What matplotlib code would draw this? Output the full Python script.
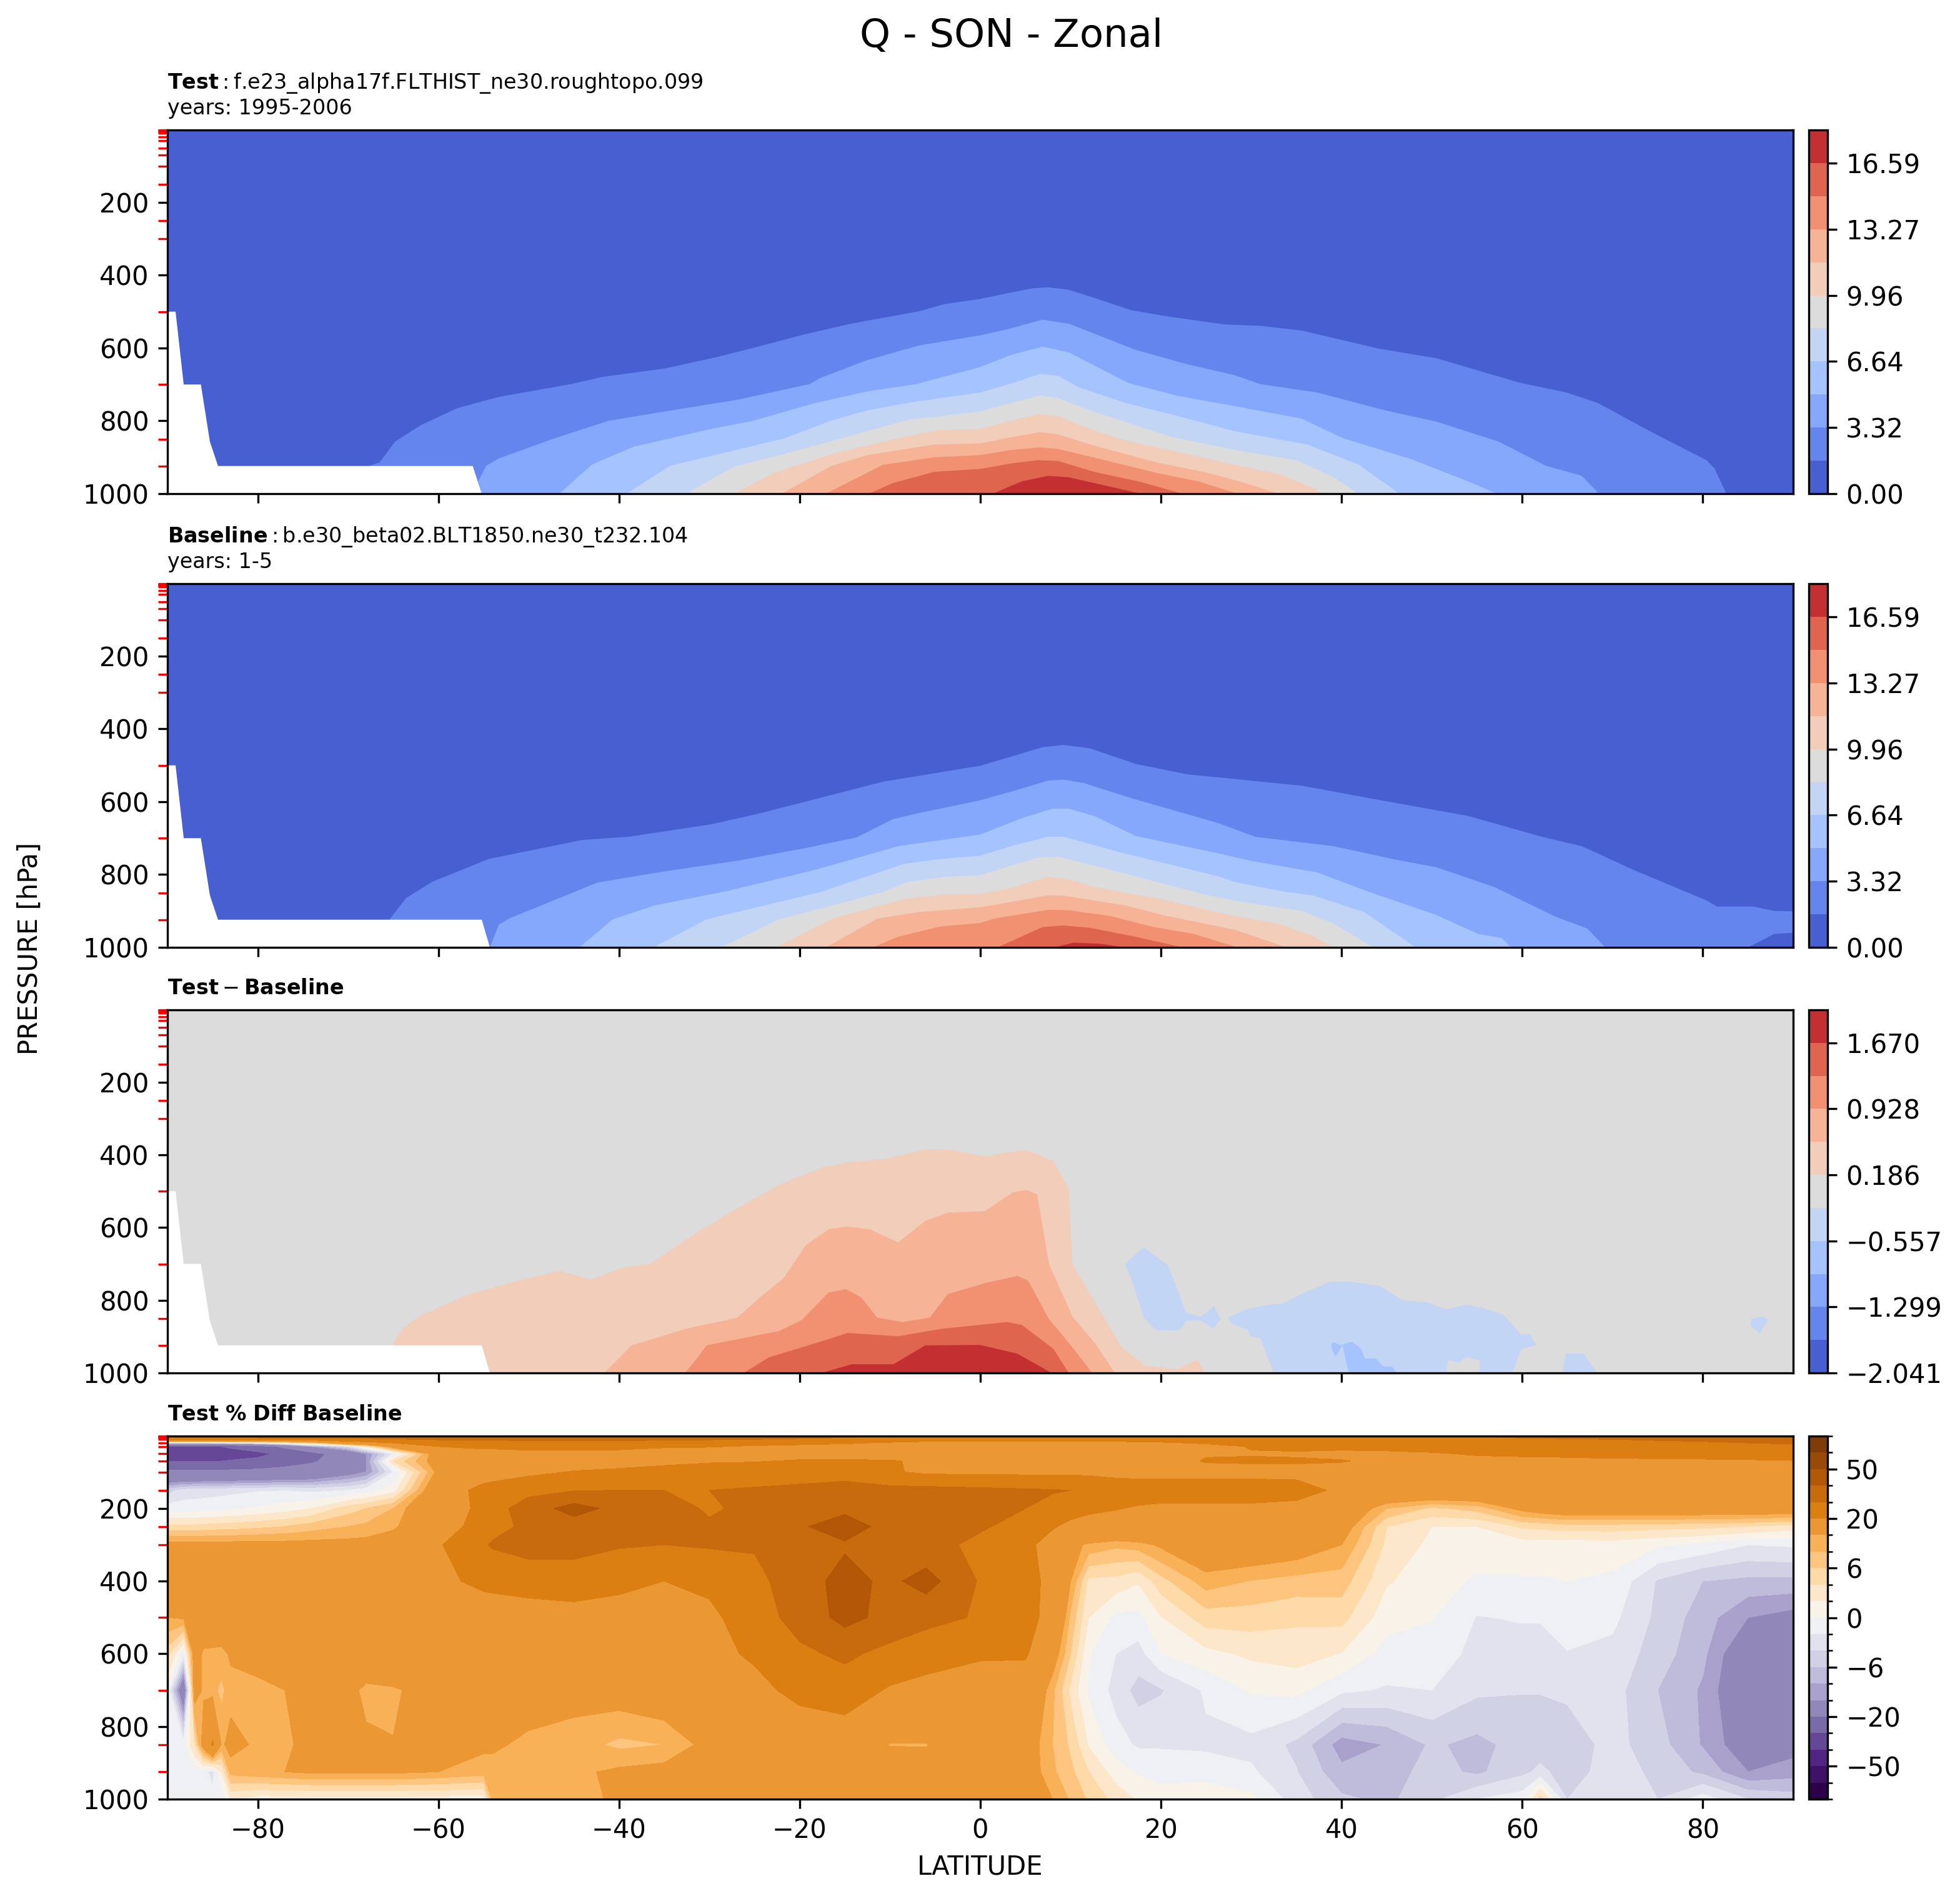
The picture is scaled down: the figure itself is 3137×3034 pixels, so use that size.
import numpy as np
import matplotlib
matplotlib.use("Agg")
import matplotlib.pyplot as plt
from matplotlib.colors import ListedColormap, BoundaryNorm
from matplotlib.cm import ScalarMappable

W, H = 3137, 3034

# colour levels of each panel
q_levels = [0.0, 1.659, 3.318, 4.977, 6.636, 8.295, 9.954, 11.613, 13.272, 14.931, 16.59, 18.249]
q_ticks = [0.0, 3.318, 6.636, 9.954, 13.272, 16.59]
q_ticklabels = ["0.00", "3.32", "6.64", "9.96", "13.27", "16.59"]
diff_levels = [-2.041, -1.670, -1.299, -0.928, -0.557, -0.186, 0.186, 0.557, 0.928, 1.299, 1.670, 2.041]
diff_ticks = [-2.041, -1.299, -0.557, 0.186, 0.928, 1.670]
diff_ticklabels = ["\u22122.041", "\u22121.299", "\u22120.557", "0.186", "0.928", "1.670"]
pct_levels = [-100, -75, -50, -40, -30, -20, -10, -8, -6, -4, -2, 0, 2, 4, 6, 8, 10, 20, 30, 40, 50, 75, 100]
pct_ticks = [-50, -20, -6, 0, 6, 20, 50]

# pressure levels marked in red on the y axis
lev_marks = [1, 2, 3, 5, 7, 10, 20, 30, 50, 70, 100, 150, 250, 300, 500, 700, 850, 925]

# below ground region (lat, hPa)
mask_test = [(-90, 500), (-89.1, 500), (-88.2, 700), (-86.3, 700), (-85.3, 857), (-84.4, 924), (-56.2, 924), (-55.2, 1000), (-90, 1000)]
mask_base = [(-90, 500), (-89.1, 500), (-88.2, 700), (-86.3, 700), (-85.3, 857), (-84.4, 924), (-55.2, 924), (-54.3, 1000), (-90, 1000)]

# Test panel: pressure of each Q contour by latitude (lat, hPa)
test_c1 = [(-67.7, 1000), (-67.7, 924), (-66.5, 914), (-64.8, 857), (-61.9, 811), (-57.9, 765), (-53.3, 734), (-45.3, 699), (-41.8, 679), (-34.9, 656), (-29.2, 625), (-24.6, 596), (-19.4, 562), (-14.3, 533), (-6.8, 499), (-3.9, 479), (0, 465), (2.9, 450), (5.7, 436), (7.5, 433), (9.8, 440), (12.6, 462), (16.7, 496), (20.7, 513), (27, 535), (31, 539), (35.6, 552), (44.2, 602), (50.5, 628), (59.7, 695), (64.9, 722), (68.4, 751), (74.1, 828), (80.4, 908), (81.3, 931), (82.6, 1000)]
test_c2 = [(-55.2, 1000), (-55.6, 966), (-54.7, 923), (-53.3, 903), (-47.5, 851), (-41.2, 800), (-34.9, 774), (-26.9, 742), (-18.9, 699), (-17.7, 682), (-12.5, 633), (-6.8, 593), (0, 565), (2.9, 549), (6.9, 522), (9.8, 533), (17.2, 605), (23, 645), (28.1, 674), (31, 699), (37.3, 722), (44.8, 771), (50.5, 802), (57.4, 857), (62.6, 923), (66.6, 951), (68.5, 1000)]
test_c3 = [(-46.6, 1000), (-43, 920), (-38.4, 871), (-29.8, 822), (-25.2, 800), (-18.3, 751), (-12.5, 719), (-7.1, 699), (0, 652), (3.4, 619), (6.9, 596), (9.8, 612), (16.4, 696), (21.8, 731), (27.6, 757), (35.6, 794), (40.2, 848), (47.7, 905), (54, 966), (57.2, 1000)]
test_c4 = [(-39.2, 1000), (-34.3, 923), (-21.7, 848), (-16.6, 800), (-12.5, 771), (-7.4, 748), (0, 722), (3.2, 699), (6.6, 671), (8.6, 676), (10.9, 708), (16.1, 751), (23, 794), (28.1, 828), (36.2, 865), (41.9, 920), (46.4, 1000)]
test_c5 = [(-32.6, 1000), (-27.2, 925), (-21.7, 891), (-15.4, 848), (-8, 797), (0, 774), (2.9, 754), (6.6, 730), (8.6, 737), (12.1, 771), (16.7, 808), (21.3, 845), (28.7, 882), (35, 908), (39.1, 954), (41.8, 1000)]
test_c6 = [(-27.2, 1000), (-22.9, 943), (-16, 888), (-9.7, 851), (-4.5, 825), (0, 822), (3.4, 799), (6.6, 781), (8.6, 787), (12.1, 822), (16.1, 854), (21.8, 885), (27, 914), (33.3, 948), (36.8, 983), (37.9, 1000)]
test_c7 = [(-22, 1000), (-16.6, 925), (-12.5, 894), (-5.1, 865), (0, 862), (3.4, 845), (6.6, 831), (8.6, 837), (12.6, 868), (19.5, 914), (24.7, 940), (28.7, 966), (33, 1000)]
test_c8 = [(-17.1, 1000), (-10.8, 921), (-5.1, 900), (0, 894), (3.4, 880), (6.6, 873), (8.6, 877), (13.8, 908), (19.5, 943), (24.1, 966), (28.5, 1000)]
test_c9 = [(-12.3, 1000), (-9.7, 971), (-5.1, 940), (0, 932), (3.4, 917), (6.3, 908), (8.6, 910), (12.6, 940), (17.8, 968), (22.4, 1000)]
test_c10 = [(1.4, 1000), (4.6, 966), (7.5, 951), (9.8, 955), (17.8, 1000)]

# Baseline panel: same contours
base_c1 = [(-65.4, 1000), (-65.4, 923), (-63.6, 865), (-60.7, 820), (-54.4, 757), (-44.1, 705), (-38.9, 696), (-29.8, 662), (-24.6, 633), (-18.3, 593), (-10.8, 545), (0, 501), (3.4, 476), (6.9, 450), (9.2, 444), (12.1, 453), (17.2, 496), (23, 525), (27.6, 536), (35.6, 556), (43.7, 593), (54, 639), (62.6, 699), (66.6, 722), (72.4, 788), (80.4, 871), (81.6, 888), (85.6, 888), (87.9, 900), (90, 901), (90, 960), (87.9, 963), (85, 1000)]
base_c2 = [(-54.3, 1000), (-53.3, 937), (-52.1, 920), (-42.4, 822), (-34.9, 791), (-26.9, 762), (-18.9, 725), (-13.7, 698), (-9.7, 648), (-6.8, 631), (0, 596), (4, 568), (7.5, 542), (9.2, 539), (11.5, 549), (16.7, 590), (26.4, 659), (30.4, 696), (39.1, 722), (46, 759), (50.5, 780), (56.9, 834), (63.8, 917), (67.2, 948), (69.2, 1000)]
base_c3 = [(-44.4, 1000), (-40.7, 923), (-36.1, 885), (-28, 845), (-18.9, 791), (-14.3, 759), (-9.1, 722), (0, 690), (4.6, 645), (8, 619), (9.8, 619), (12.6, 639), (17.2, 694), (26.4, 742), (29.9, 762), (37.3, 794), (43.1, 848), (50.5, 911), (55.1, 963), (57.7, 974), (58.8, 1000)]
base_c4 = [(-36.2, 1000), (-30.3, 923), (-17.7, 848), (-8.5, 771), (-5.1, 759), (0, 748), (3.4, 722), (7.5, 696), (9.2, 696), (15.5, 739), (26.4, 805), (28.1, 820), (33.9, 848), (36.8, 857), (42.5, 903), (48.2, 1000)]
base_c5 = [(-28.7, 1000), (-22.3, 923), (-10.8, 848), (-8, 820), (-3.9, 806), (0, 802), (2.9, 779), (6.3, 754), (8.6, 751), (10.9, 765), (17.2, 805), (24.7, 854), (28.7, 874), (35.6, 900), (39.1, 934), (43.5, 1000)]
base_c6 = [(-22.6, 1000), (-16.3, 920), (-8.5, 868), (-3.9, 854), (0, 853), (2.9, 840), (7.5, 806), (10, 814), (12.6, 834), (19.5, 865), (27, 908), (33.3, 937), (36.8, 968), (39.1, 1000)]
base_c7 = [(-17.1, 1000), (-11.4, 921), (-6.8, 903), (0, 890), (2.3, 880), (7.5, 857), (9.2, 858), (16.1, 885), (20.7, 914), (28.1, 951), (33.9, 1000)]
base_c8 = [(-11.9, 1000), (-9.1, 971), (-4.5, 943), (0, 933), (1.7, 920), (7.5, 897), (9.8, 898), (14.4, 914), (19, 943), (23.6, 963), (28.5, 1000)]
base_c9 = [(1.9, 1000), (6.9, 944), (9.2, 940), (12.1, 946), (17.2, 971), (22.4, 1000)]
base_c10 = [(8.2, 1000), (10.3, 987), (13.2, 990), (16.1, 1000)]

# Test - Baseline panel: positive contours
diff_c1 = [(-65.2, 1000), (-65.2, 927), (-64, 878), (-62, 842), (-56.9, 786), (-51.8, 750), (-46.7, 719), (-43.1, 743), (-39.6, 710), (-36.5, 699), (-31.5, 615), (-26.4, 539), (-22.3, 483), (-17.3, 433), (-14.2, 419), (-10.2, 410), (-6.1, 384), (-3, 387), (0.5, 404), (5.1, 386), (8.1, 417), (9.8, 496), (10.2, 700), (12.7, 806), (15.7, 931), (18.3, 980), (21.8, 990), (24, 964), (24.9, 1000)]
diff_c2 = [(-41.6, 1000), (-38.6, 924), (-32.5, 878), (-26.9, 848), (-24.4, 792), (-21.8, 740), (-19.3, 648), (-16.8, 605), (-14.7, 597), (-12.2, 605), (-9.1, 641), (-6.1, 582), (-3.6, 559), (0.5, 555), (3.6, 503), (5.1, 496), (6.3, 509), (7.6, 700), (10.2, 845), (12.7, 918), (14.9, 1000)]
diff_c3 = [(-32.7, 1000), (-31.5, 964), (-30.3, 924), (-22.3, 885), (-19.8, 855), (-16.8, 779), (-14.9, 769), (-13.2, 792), (-11.4, 848), (-8.6, 860), (-5.6, 848), (-3.6, 783), (0.5, 753), (4.1, 733), (5.3, 746), (7.6, 852), (9.6, 911), (12.4, 1000)]
diff_c4 = [(-26.2, 1000), (-23.4, 957), (-17.3, 911), (-14.7, 890), (-9.1, 899), (-4.1, 878), (3, 860), (4.6, 868), (8.1, 934), (9.8, 1000)]
diff_c5 = [(-17.6, 1000), (-14.2, 976), (-9.6, 976), (-6.1, 924), (0, 923), (4.1, 947), (7.9, 1000)]

# Test - Baseline panel: negative patches
diff_neg1 = [[(16, 700), (18.1, 654), (20.8, 704), (22.8, 835), (24.4, 845), (25.9, 816), (26.6, 852), (25.8, 878), (24.4, 855), (22.8, 856), (22.1, 883), (19.5, 883), (18.1, 848), (16.8, 746)],
             [(27.4, 848), (29.4, 825), (32, 812), (33.5, 809), (35.5, 783), (38.6, 750), (40.6, 748), (44.2, 760), (46.7, 799), (49.5, 806), (51.6, 825), (53.8, 812), (55.8, 822), (57.9, 839), (59.9, 895), (60.9, 893), (61.5, 924), (59.9, 934), (58.9, 1000), (55.3, 1000), (55.3, 964), (53.8, 957), (53, 971), (51.8, 964), (51.6, 1000), (32.5, 1000), (31, 904), (30, 901), (29.6, 881), (27.9, 865)],
             [(64.5, 1000), (64.8, 947), (66.8, 947), (68.3, 1000)],
             [(85.3, 852), (86.5, 845), (87.3, 852), (86.3, 891), (85.3, 871)]]
diff_neg2 = [[(38.8, 924), (39.1, 915), (39.9, 924), (41.1, 914), (42.1, 931), (42.6, 960), (43.8, 960), (44.6, 982), (45.6, 983), (46.1, 1000), (40.8, 1000), (40.1, 924), (39.3, 956)]]

# Test % Diff Baseline panel: values by latitude and pressure
pct_lat = [-90, -88.2, -87, -86, -85, -84, -83, -80, -77, -74, -70, -68, -65, -60, -55, -54, -50, -45, -40,
           -35, -30, -25, -20, -15, -10, -6, 0, 5, 8, 10, 12, 15, 17.5, 20, 25, 30, 35, 40, 45,
           50, 55, 60, 62, 65, 70, 75, 80, 85, 90]
pct_lev = [1, 10, 20, 30, 50, 70, 100, 150, 200, 250, 300, 400, 500, 600, 700, 850, 925, 1000]
pct_p1 = [38, 38, 38, 38, 38, 38, 38, 38, 38, 38, 38, 38, 38, 38, 38, 38, 38, 38, 37,
          36, 35, 34, 33, 32, 30, 28, 27, 27, 27, 27, 27, 27, 27, 27, 27, 28, 28, 28, 28,
          29, 30, 32, 32, 33, 34, 35, 36, 37, 38]
pct_p10 = [24, 24, 24, 24, 24, 24, 24, 24, 25, 25, 26, 27, 29, 31, 32, 32, 32, 32, 32,
           32, 31, 30, 29, 28, 25, 23, 22, 22, 22, 22, 23, 23, 23.5, 24, 25, 26, 27, 27, 28,
           28, 28.5, 29, 29, 29.5, 30, 30.5, 31.5, 32, 33]
pct_p20 = [-5, -5, -5, -5, -4, -4, -3.5, -2, 1, 5, 15, 17, 20, 24, 25, 25, 26, 26, 26,
           25, 24, 23, 22, 21, 19, 18, 18, 18, 18, 18, 18, 18, 18.5, 19, 21, 24, 25, 25, 26,
           27, 27, 27.5, 28, 28, 28, 29, 29, 30, 31]
pct_p30 = [-32, -32, -31, -31, -30, -30, -29, -25, -18, -10, -4, 2, 12, 20, 23, 23, 25, 25, 24,
           21, 20.5, 19, 18, 17, 16, 15, 15, 15, 15, 15, 15, 15, 15, 15, 17, 20.5, 22, 22, 23,
           24, 24, 25, 25, 26, 26, 26, 27, 27, 28]
pct_p50 = [-35, -35, -35, -34, -34, -34, -33, -32, -28, -23, -15, -10, -2, 13, 14, 14, 15, 15, 15,
           15, 15, 15, 16, 16, 15, 15, 15, 15, 15, 15, 15, 15, 15.5, 16, 19.5, 19.5, 19, 18, 18,
           19, 21, 22, 22, 23, 24, 24, 24, 24, 25]
pct_p70 = [-30, -30, -30, -30, -30, -30, -29.5, -28, -24, -21, -15, -10, 4, 12, 15, 15, 15, 16, 17,
           18, 19, 19.5, 21, 21, 21, 18, 17, 16, 16, 16, 16, 16, 16.5, 17, 20.5, 21, 21, 20.5, 18,
           17, 17, 17, 17, 17, 17.5, 18, 18.5, 19, 19.5]
pct_p100 = [-18, -18, -18, -18, -18, -18, -17.5, -17, -16.5, -15.5, -12, -10, -2, 11, 15, 15.5, 18, 20.5, 21.5,
            23, 25, 25, 26, 27, 21, 18.5, 18, 18, 18, 18, 18, 17, 17, 17, 17, 17, 17, 16, 16,
            16, 16, 16, 16, 16, 15, 15, 15, 15, 15]
pct_p150 = [-5, -3.2, -3, -2.9, -2.8, -2.7, -2.6, -2.2, -2.1, -2.5, -2, -1, 1, 14, 23, 24, 27, 29.5, 30,
            30, 30, 31, 32, 33, 33, 33, 32, 31, 30.5, 30, 28, 26, 25, 25, 25, 25, 24, 18, 15,
            15, 15, 15, 15, 15, 15, 15, 15, 15, 15]
pct_p200 = [-1, -1, -1, -0.9, -0.8, -0.6, -0.3, 0.2, 1, 2, 5, 6, 8, 15, 22, 26, 35, 44, 37,
            37, 28, 34, 37, 38, 36, 34, 33, 30, 28, 25, 22, 20.5, 19, 18, 18, 18, 17, 14, 8,
            5.6, 6.8, 11, 12, 13, 13, 13, 13, 13, 13]
pct_p250 = [4.5, 4.5, 4.5, 4.7, 4.8, 5, 5, 5.5, 6, 7, 8, 8.5, 9.5, 14, 25, 27, 32, 35, 34,
            33, 32, 34, 39, 44, 37, 33, 31, 27, 21, 17, 16, 15.5, 16, 16, 16, 15.5, 15, 12, 4,
            2, 2, 4.3, 4.5, 5, 5, 4.7, 4.5, 4, 3]
pct_p300 = [11, 11, 11, 11, 11, 11, 11, 11, 11, 11, 11, 11, 12, 19, 29, 31, 34, 34, 31,
            30, 31, 31, 36, 39, 36, 33, 28, 23, 15, 11, 9.5, 8.5, 9, 10.5, 13, 13, 12, 10, 3.5,
            1.5, 1.1, 1, 1, 0.8, 1, 0.3, -0.5, -2, -1.7]
pct_p400 = [15, 15, 15, 15, 15, 15, 15, 15, 15, 15, 15, 15, 15, 18, 22, 22.5, 24, 24, 21.5,
            20, 22, 27, 36, 43, 38, 44, 29, 25, 16, 10, 3.5, 3.3, 2.2, 5.2, 9, 7.9, 7.2, 7, 2.2,
            0.9, -0.3, -0.2, -0.2, 0, -0.4, -4.2, -6, -6.5, -6.5]
pct_p500 = [10, 10.5, 12, 13, 14, 14, 14.5, 15, 15, 15, 15, 15, 15, 15, 15, 15, 15.5, 17, 17.5,
            18, 18, 25, 34, 43, 37, 33, 29, 24, 16, 7.5, 2, -0.5, -0.6, 1.9, 5, 5, 4.4, 4.7, 0.8,
            0.1, -2.1, -1.8, -1.8, -1, -1.5, -4.5, -7, -10, -11]
pct_p600 = [5, -1.5, 12, 9.5, 9.2, 9, 10.5, 12, 13, 14, 15, 13, 15, 15, 15, 15, 15, 15, 15,
            16, 18, 21, 28, 32, 27, 24, 21, 21, 12, 6, 0.2, -2, -2.8, 0, 1.4, 2.4, 2.9, 1.9, -0.8,
            -0.9, -2.6, -3, -3, -2.1, -2.6, -5, -7.5, -13, -13]
pct_p700 = [0, -15, 12, 9.5, 8.5, 7.5, 9, 8.9, 10, 11.5, 11, 9.3, 9.5, 12, 12, 12, 12, 11, 11.5,
            12.5, 14, 18, 22, 25, 19, 17, 16, 15, 8.5, 3.5, -0.3, -2.7, -4.8, -4.2, -1.7, 0.2, 0.6, -1.6, -2.2,
            -2, -3.6, -3.9, -3.9, -3.6, -3.2, -6, -8.3, -13.5, -14]
pct_p850 = [-1, -1, 4, 12, 21, 9.5, 11, 9.5, 9, 12, 11, 10.5, 10.1, 11, 10.5, 10.5, 9.3, 9, 7.5,
            8, 11, 13, 15, 14, 9.8, 9.8, 13, 12, 8, 5.6, 1.8, -1.2, -2.3, -2.2, -2.4, -2.6, -4.5, -9, -7.9,
            -5.7, -6.6, -5.2, -5.1, -5.1, -3.3, -5.2, -8.2, -12, -11]
pct_p925 = [-1, -1, -1, -1, -3, 2, 8.8, 9.5, 10, 10.5, 10.5, 10.5, 10.5, 10, 9, 9, 9, 9.5, 10.5,
            11, 13, 14, 14, 14, 13, 12, 12, 12, 8.4, 6.5, 4, 1, -0.2, -1, -0.9, -1.7, -3.9, -7.5, -7,
            -5.2, -6.4, -4.5, -3.5, -5, -3, -4.5, -6.5, -10, -9]
pct_p1000 = [-1, -1, -1, -1, -1, -1, 2, 1, 1, 1, 1, 1, 1, 1, 1, 8.5, 9, 9, 10.5,
             12, 13, 14, 14, 14, 13, 13, 13, 12, 10, 7.7, 5.7, 3.3, 1.7, 1.2, 1.5, 0.5, -3, -5.6, -6.5,
             -4.5, -2, -1, 5, -4, -2, -4, -1, -4, -5]

pct_diff = np.array([pct_p1, pct_p10, pct_p20, pct_p30, pct_p50, pct_p70, pct_p100, pct_p150, pct_p200,
                     pct_p250, pct_p300, pct_p400, pct_p500, pct_p600, pct_p700, pct_p850, pct_p925, pct_p1000])

# band centres of coolwarm
def band_colors(n):
    return plt.cm.coolwarm((np.arange(n) + 0.5) / n)

def make_axes(top, bottom):
    ax = fig.add_axes([268 / W, 1 - bottom / H, (2870 - 268) / W, (bottom - top) / H])
    cax = fig.add_axes([2895 / W, 1 - bottom / H, 30 / W, (bottom - top) / H])
    ax.set_xlim(-90, 90)
    ax.set_ylim(1000, 1)
    ax.set_xticks([-80, -60, -40, -20, 0, 20, 40, 60, 80])
    ax.set_yticks([200, 400, 600, 800, 1000])
    ax.set_yticks(lev_marks, minor=True)
    ax.tick_params(axis="y", which="minor", color="red", length=3.5, width=0.8)
    ax.tick_params(labelsize=10)
    return ax, cax

def draw_bands(ax, contours, colors, mask):
    ax.set_facecolor(colors[0])
    for c, col in zip(contours, colors[1:]):
        xy = np.array(c)
        ax.fill(xy[:, 0], xy[:, 1], color=col, lw=0)
    if mask is not None:
        xy = np.array(mask)
        ax.fill(xy[:, 0], xy[:, 1], color="white", lw=0, zorder=2)

def add_cbar(cax, levels, colors, ticks, labels):
    cmap = ListedColormap(colors)
    norm = BoundaryNorm(levels, cmap.N)
    cb = fig.colorbar(ScalarMappable(norm=norm, cmap=cmap), cax=cax, ticks=ticks)
    cb.set_ticklabels(labels)
    cb.ax.tick_params(labelsize=10)
    cb.minorticks_off()
    return cb

fig = plt.figure(figsize=(W / 300, H / 300), dpi=300)
colors = band_colors(11)

# Test
ax, cax = make_axes(208, 790)
draw_bands(ax, [test_c1, test_c2, test_c3, test_c4, test_c5, test_c6, test_c7, test_c8, test_c9, test_c10], colors, mask_test)
add_cbar(cax, q_levels, colors, q_ticks, q_ticklabels)
ax.set_xticklabels([])
ax.set_title("$\\mathbf{Test}:$f.e23_alpha17f.FLTHIST_ne30.roughtopo.099\nyears: 1995-2006", loc="left", fontsize=8)

# Baseline
ax, cax = make_axes(934, 1516)
draw_bands(ax, [base_c1, base_c2, base_c3, base_c4, base_c5, base_c6, base_c7, base_c8, base_c9, base_c10], colors, mask_base)
add_cbar(cax, q_levels, colors, q_ticks, q_ticklabels)
ax.set_xticklabels([])
ax.set_title("$\\mathbf{Baseline}:$b.e30_beta02.BLT1850.ne30_t232.104\nyears: 1-5", loc="left", fontsize=8)

# Test - Baseline, gray is the band around zero
ax, cax = make_axes(1616, 2197)
ax.set_facecolor(colors[5])
for c, col in zip([diff_c1, diff_c2, diff_c3, diff_c4, diff_c5], colors[6:]):
    xy = np.array(c)
    ax.fill(xy[:, 0], xy[:, 1], color=col, lw=0)
for patch in diff_neg1:
    xy = np.array(patch)
    ax.fill(xy[:, 0], xy[:, 1], color=colors[4], lw=0)
for patch in diff_neg2:
    xy = np.array(patch)
    ax.fill(xy[:, 0], xy[:, 1], color=colors[3], lw=0)
xy = np.array(mask_base)
ax.fill(xy[:, 0], xy[:, 1], color="white", lw=0, zorder=2)
add_cbar(cax, diff_levels, colors, diff_ticks, diff_ticklabels)
ax.set_xticklabels([])
ax.set_title("$\\mathbf{Test} - \\mathbf{Baseline}$", loc="left", fontsize=8)

# Test % Diff Baseline
ax, cax = make_axes(2298, 2879)
norm = BoundaryNorm(pct_levels, 256)
cf = ax.contourf(pct_lat, pct_lev, pct_diff, levels=pct_levels, cmap="PuOr_r", norm=norm)
cb = fig.colorbar(cf, cax=cax, ticks=pct_ticks)
cb.set_ticklabels(["\u221250", "\u221220", "\u22126", "0", "6", "20", "50"])
cb.ax.set_yticks(pct_levels, minor=True)
cb.ax.tick_params(labelsize=10)
ax.set_title("$\\mathbf{Test\\ \\%\\ Diff\\ Baseline}$", loc="left", fontsize=8)
ax.set_xlabel("LATITUDE", fontsize=10)

fig.text(48 / W, 1 - 1518 / H, "PRESSURE [hPa]", rotation=90, va="center", ha="center", fontsize=10)
fig.suptitle("Q - SON - Zonal", x=1619 / W, y=1 - 58 / H, va="center", fontsize=15)

fig.savefig("out.png", dpi=300)
